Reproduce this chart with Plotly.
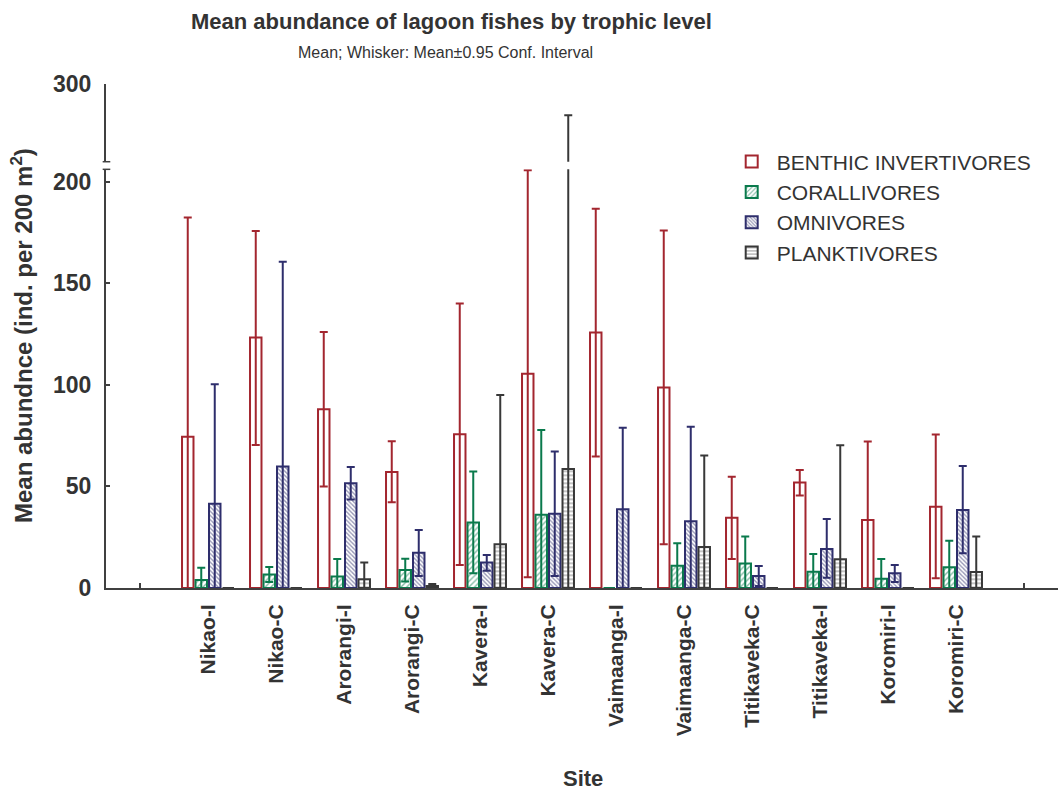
import plotly.graph_objects as go

sites = ["Nikao-I", "Nikao-C", "Arorangi-I", "Arorangi-C", "Kavera-I", "Kavera-C",
         "Vaimaanga-I", "Vaimaanga-C", "Titikaveka-C", "Titikaveka-I", "Koromiri-I", "Koromiri-C"]

groups = ["BENTHIC INVERTIVORES", "CORALLIVORES", "OMNIVORES", "PLANKTIVORES"]

# means
benthic_mean = [74.5, 123.3, 88.0, 57.1, 75.7, 105.4, 125.8, 98.7, 34.6, 51.9, 33.5, 40.0]
coral_mean   = [3.9, 6.6, 5.6, 8.9, 32.2, 36.1, 0, 11.0, 12.0, 8.0, 4.6, 10.2]
omni_mean    = [41.5, 59.8, 51.6, 17.4, 12.5, 36.6, 38.7, 32.8, 5.9, 19.2, 7.2, 38.4]
plank_mean   = [0, 0, 4.3, 1.0, 21.5, 58.6, 0, 20.2, 0, 14.1, 0, 7.9]

# 0.95 confidence interval, upper limits
benthic_up = [182.4, 175.7, 126.0, 72.2, 140.0, 205.6, 186.7, 175.9, 54.8, 58.1, 72.1, 75.5]
coral_up   = [10.0, 10.3, 14.3, 14.4, 57.3, 77.8, None, 22.0, 25.3, 16.7, 14.3, 23.2]
omni_up    = [100.3, 160.6, 59.6, 28.6, 16.3, 67.2, 78.9, 79.3, 10.8, 34.0, 11.3, 60.1]
plank_up   = [None, None, 12.6, 2.0, 95.0, 284.6, None, 65.2, None, 70.3, None, 25.3]

# 0.95 confidence interval, lower limits (values below zero read as 0)
benthic_lo = [0, 70.4, 49.9, 42.2, 11.3, 5.3, 64.7, 21.5, 14.3, 45.5, 0, 4.8]
coral_lo   = [0, 3.0, 0, 3.2, 7.2, 0, None, 0, 0, 0, 0, 0]
omni_lo    = [0, 0, 43.5, 5.9, 8.5, 5.9, 0, 0, 1.0, 5.1, 3.0, 17.1]
plank_lo   = [None, None, 0, 0, 0, 0, None, 0, None, 0, None, 0]

colors = ["#a3262f", "#0a7a4c", "#2e2e6c", "#383838"]
patterns = [dict(shape=""),
            dict(shape="/", fgcolor="#0a7a4c", bgcolor="white", size=4, solidity=0.35),
            dict(shape="\\", fgcolor="#2e2e6c", bgcolor="white", size=3, solidity=0.45),
            dict(shape="-", fgcolor="#383838", bgcolor="white", size=4, solidity=0.3)]

series = [(benthic_mean, benthic_up, benthic_lo),
          (coral_mean, coral_up, coral_lo),
          (omni_mean, omni_up, omni_lo),
          (plank_mean, plank_up, plank_lo)]

xs = list(range(len(sites)))

fig = go.Figure()
for axis in ["y", "y2"]:
    for i, (name, (m, up, lo)) in enumerate(zip(groups, series)):
        plus = [None if u is None else u - v for v, u in zip(m, up)]
        minus = [None if l is None else v - l for v, l in zip(m, lo)]
        fig.add_trace(go.Bar(
            x=xs, y=m, name=name, yaxis=axis, xaxis="x",
            showlegend=(axis == "y"),
            marker=dict(color="white", line=dict(color=colors[i], width=2),
                        pattern=patterns[i]),
            error_y=dict(type="data", symmetric=False, array=plus, arrayminus=minus,
                         color=colors[i], thickness=2, width=4),
        ))

fontfam = "Liberation Sans, Arial, sans-serif"
tc = "#333333"

fig.update_layout(
    width=1060, height=794,
    margin=dict(l=106, r=2, t=84, b=206),
    paper_bgcolor="white", plot_bgcolor="white",
    barmode="group", bargap=0.206, bargroupgap=0.15,
    font=dict(family=fontfam, color=tc),
    xaxis=dict(range=[-1.5, 12.5], tickvals=xs, ticktext=sites, tickangle=-90,
               ticks="", showgrid=False, zeroline=False,
               showline=True, linecolor="#404040", linewidth=2,
               tickfont=dict(size=21, weight="bold", color=tc),
               minor=dict(tickvals=[-1, 12], ticks="inside", ticklen=5, tickwidth=2,
                          tickcolor="#404040", showgrid=False),
               ticklabelstandoff=6),
    yaxis=dict(domain=[0, 0.8307], range=[0, 206.05], tickvals=[0, 50, 100, 150, 200],
               ticks="inside", ticklen=4, tickwidth=1.5, tickcolor="#404040",
               showgrid=False, zeroline=False, showline=True, linecolor="#404040", linewidth=2,
               tickfont=dict(size=23, weight="bold", color=tc), ticklabelstandoff=8),
    yaxis2=dict(domain=[0.8458, 1], range=[261.76, 300], tickvals=[300],
                ticks="inside", ticklen=4, tickwidth=1.5, tickcolor="#404040",
                showgrid=False, zeroline=False, showline=True, linecolor="#404040", linewidth=2,
                tickfont=dict(size=23, weight="bold", color=tc), ticklabelstandoff=8,
                anchor="x"),
    legend=dict(x=0.652, y=0.886, xanchor="left", yanchor="top",
                font=dict(size=21, color=tc), bgcolor="rgba(0,0,0,0)",
                tracegroupgap=0, itemwidth=40),
    showlegend=True,
)

# axis break marks
for yb in [0.8307, 0.8458]:
    fig.add_shape(type="line", xref="paper", yref="paper",
                  x0=-0.0035, x1=0.0045, y0=yb, y1=yb,
                  line=dict(color="#404040", width=1.5))

fig.add_annotation(text="Mean abundance of lagoon fishes by trophic level",
                   xref="paper", yref="paper", x=0.3634, y=(588 - 21) / 504,
                   showarrow=False, xanchor="center", yanchor="middle",
                   font=dict(size=22, weight="bold", color=tc))
fig.add_annotation(text="Mean; Whisker: Mean±0.95 Conf. Interval",
                   xref="paper", yref="paper", x=0.357, y=(588 - 52) / 504,
                   showarrow=False, xanchor="center", yanchor="middle",
                   font=dict(size=16, color=tc))
fig.add_annotation(text="Mean abundnce (ind. per 200 m<sup>2</sup>)",
                   xref="paper", yref="paper", x=(22 - 106) / 952, y=(588 - 336) / 504,
                   showarrow=False, xanchor="center", yanchor="middle", textangle=-90,
                   font=dict(size=24, weight="bold", color=tc))
fig.add_annotation(text="Site",
                   xref="paper", yref="paper", x=(583 - 106) / 952, y=(588 - 778) / 504,
                   showarrow=False, xanchor="center", yanchor="middle",
                   font=dict(size=22, weight="bold", color=tc))

fig.write_html("out.html")
